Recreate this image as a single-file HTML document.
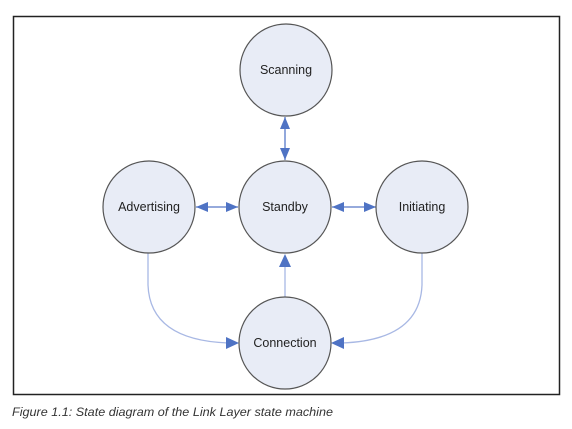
<!DOCTYPE html>
<html><head><style>
html,body{margin:0;padding:0;background:#fff;}
svg{display:block;}
</style></head><body>
<svg width="572" height="429" viewBox="0 0 572 429" xmlns="http://www.w3.org/2000/svg">
<defs>
<marker id="a" markerWidth="12" markerHeight="10" refX="12" refY="5" orient="auto" markerUnits="userSpaceOnUse">
<path d="M0,0 L12,5 L0,10 Z" fill="#4f73c4"/>
</marker>
</defs>
<rect x="13.5" y="16.5" width="546" height="378" fill="#fff" stroke="#222" stroke-width="1.5"/>
<g stroke="#5878c8" stroke-width="1.3" fill="none">
<line x1="285" y1="140" x2="285" y2="117" marker-end="url(#a)"/>
<line x1="285" y1="140" x2="285" y2="160" marker-end="url(#a)"/>
<line x1="215" y1="207" x2="196" y2="207" marker-end="url(#a)"/>
<line x1="215" y1="207" x2="238" y2="207" marker-end="url(#a)"/>
<line x1="352" y1="207" x2="332" y2="207" marker-end="url(#a)"/>
<line x1="352" y1="207" x2="376" y2="207" marker-end="url(#a)"/>
</g>
<g stroke="#a8b8e4" stroke-width="1.3" fill="none">
<line x1="285" y1="297" x2="285" y2="260"/>
<path d="M148,253 L148,285 Q150,340 228,343"/>
<path d="M422,253 L422,285 Q420,340 342,343"/>
</g>
<g fill="#4f73c4">
<path d="M279,267 L285,254 L291,267 Z"/>
<path d="M226,337 L239,343 L226,349 Z"/>
<path d="M344,337 L331,343 L344,349 Z"/>
</g>
<g fill="#e8ecf6" stroke="#555" stroke-width="1.2">
<circle cx="286" cy="70" r="46"/>
<circle cx="285" cy="207" r="46"/>
<circle cx="149" cy="207" r="46"/>
<circle cx="422" cy="207" r="46"/>
<circle cx="285" cy="343" r="46"/>
</g>
<g font-family="Liberation Sans, sans-serif" font-size="12.5" fill="#222" text-anchor="middle">
<text x="286" y="74">Scanning</text>
<text x="285" y="211">Standby</text>
<text x="149" y="211">Advertising</text>
<text x="422" y="211">Initiating</text>
<text x="285" y="347">Connection</text>
</g>
<text x="12" y="416" font-family="Liberation Sans, sans-serif" font-size="11.5" font-style="italic" fill="#333" textLength="321" lengthAdjust="spacingAndGlyphs">Figure 1.1:  State diagram of the Link Layer state machine</text>
</svg>
</body></html>
